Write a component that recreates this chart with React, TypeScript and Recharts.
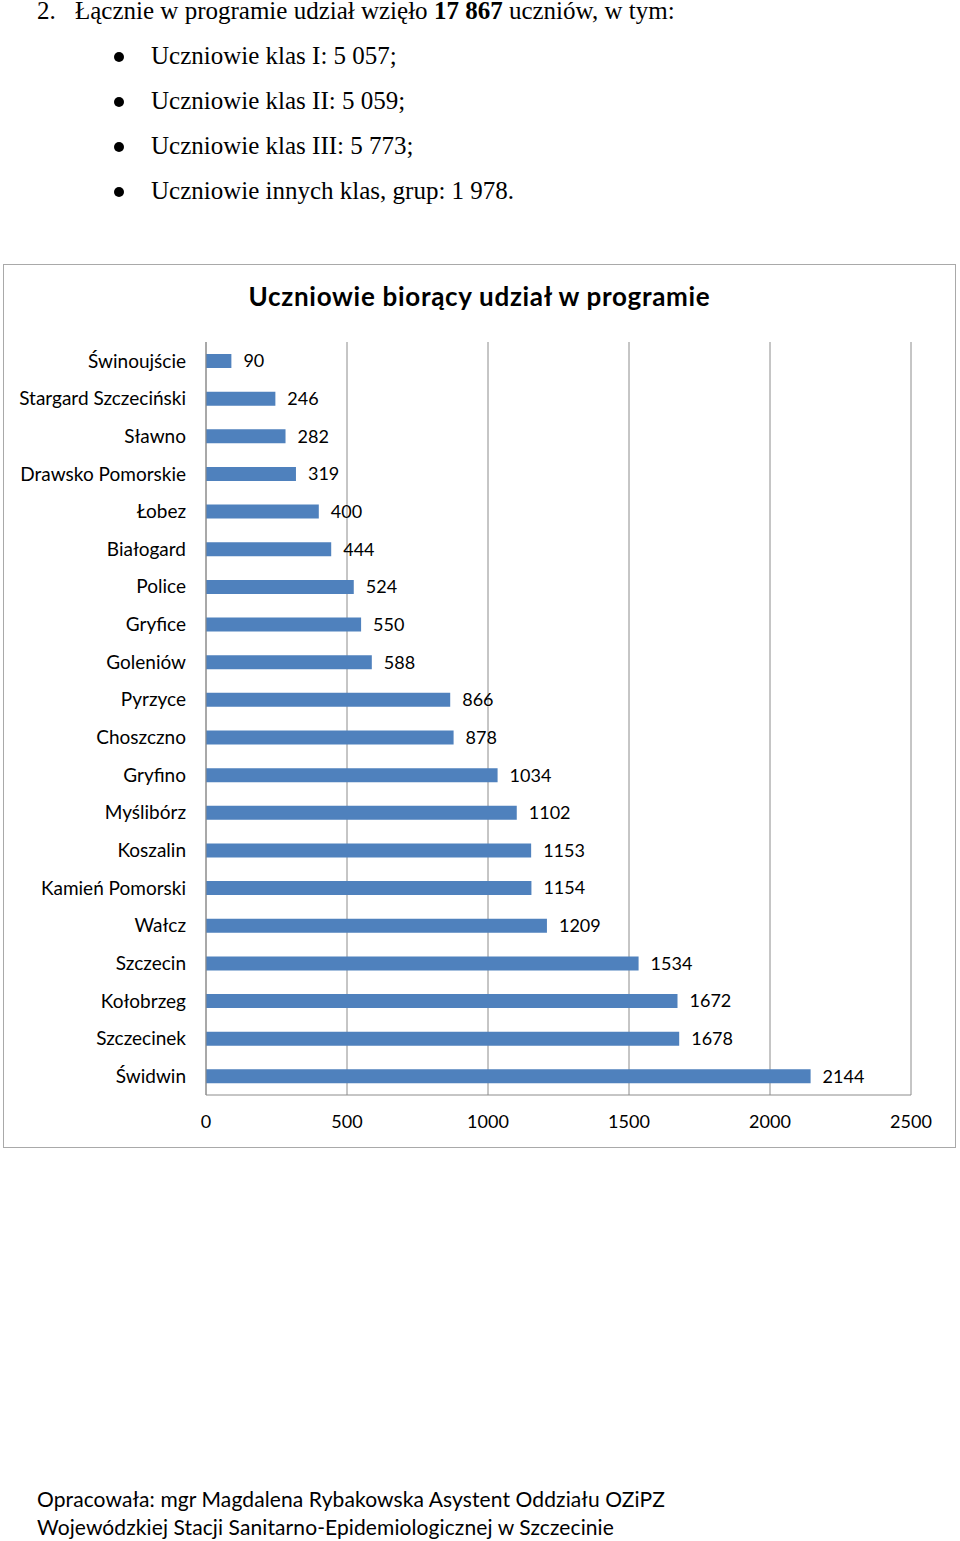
import { Bar, BarChart, CartesianGrid, LabelList, XAxis, YAxis } from 'recharts';

const towns = [
  'Świnoujście',
  'Stargard Szczeciński',
  'Sławno',
  'Drawsko Pomorskie',
  'Łobez',
  'Białogard',
  'Police',
  'Gryfice',
  'Goleniów',
  'Pyrzyce',
  'Choszczno',
  'Gryfino',
  'Myślibórz',
  'Koszalin',
  'Kamień Pomorski',
  'Wałcz',
  'Szczecin',
  'Kołobrzeg',
  'Szczecinek',
  'Świdwin',
];
const students = [90, 246, 282, 319, 400, 444, 524, 550, 588, 866, 878, 1034, 1102, 1153, 1154, 1209, 1534, 1672, 1678, 2144];
const xTicks = [0, 500, 1000, 1500, 2000, 2500];

const bullets = [
  'Uczniowie klas I: 5 057;',
  'Uczniowie klas II: 5 059;',
  'Uczniowie klas III: 5 773;',
  'Uczniowie innych klas, grup: 1 978.',
];

const data = towns.map((town, i) => ({ town, value: students[i] }));

const sans = 'Lato, "Open Sans", sans-serif';
const serif = '"Liberation Serif", "Times New Roman", serif';

export default function App() {
  return (
    <div style={{ position: 'absolute', left: 0, top: 0, width: 960, height: 1541, background: '#fff' }}>
      <div style={{ position: 'absolute', left: 37, top: -3, fontFamily: serif, fontSize: 25, color: '#000', whiteSpace: 'nowrap' }}>
        2.
      </div>
      <div style={{ position: 'absolute', left: 75, top: -3, fontFamily: serif, fontSize: 25, color: '#000', whiteSpace: 'nowrap' }}>
        Łącznie w programie udział wzięło <b>17 867</b> uczniów, w tym:
      </div>
      {bullets.map((t, i) => (
        <div key={t} style={{ position: 'absolute', left: 151, top: 42 + i * 45, fontFamily: serif, fontSize: 25, whiteSpace: 'nowrap' }}>
          <span
            style={{
              position: 'absolute',
              left: -37,
              top: 10,
              width: 10,
              height: 10,
              borderRadius: 5,
              background: '#000',
            }}
          />
          {t}
        </div>
      ))}

      <div
        style={{
          position: 'absolute',
          left: 3,
          top: 264,
          width: 951,
          height: 882,
          border: '1px solid #a9a9a9',
          background: '#fff',
        }}
      >
        <div
          style={{
            position: 'absolute',
            left: 0,
            width: 951,
            top: 15,
            textAlign: 'center',
            fontFamily: sans,
            fontWeight: 700,
            fontSize: 26,
            letterSpacing: 0.7,
            color: '#000',
          }}
        >
          Uczniowie biorący udział w programie
        </div>
        <BarChart
          width={951}
          height={882}
          data={data}
          layout="vertical"
          margin={{ top: 77, right: 44, left: 0, bottom: 22 }}
          barCategoryGap={0}
        >
          <CartesianGrid horizontal={false} stroke="#8c8c8c" />
          <XAxis
            type="number"
            domain={[0, 2500]}
            ticks={xTicks}
            interval={0}
            height={30}
            tickLine={false}
            tickSize={0}
            tickMargin={20}
            axisLine={{ stroke: '#8c8c8c' }}
            tick={{ fill: '#000', fontSize: 18, fontFamily: sans }}
          />
          <YAxis
            type="category"
            dataKey="town"
            width={202}
            tickLine={false}
            tickSize={0}
            tickMargin={20}
            axisLine={{ stroke: '#8c8c8c' }}
            interval={0}
            tick={{ fill: '#000', fontSize: 19, fontFamily: sans }}
          />
          <Bar dataKey="value" fill="#4f81bd" barSize={14} isAnimationActive={false}>
            <LabelList dataKey="value" position="right" offset={12} fill="#000" fontSize={18} fontFamily={sans} />
          </Bar>
        </BarChart>
      </div>

      <div
        style={{
          position: 'absolute',
          left: 37,
          top: 1485,
          fontFamily: sans,
          fontSize: 21,
          letterSpacing: 0.1,
          lineHeight: '28px',
          color: '#000',
          whiteSpace: 'nowrap',
        }}
      >
        Opracowała: mgr Magdalena Rybakowska Asystent Oddziału OZiPZ
        <br />
        Wojewódzkiej Stacji Sanitarno-Epidemiologicznej w Szczecinie
      </div>
    </div>
  );
}
